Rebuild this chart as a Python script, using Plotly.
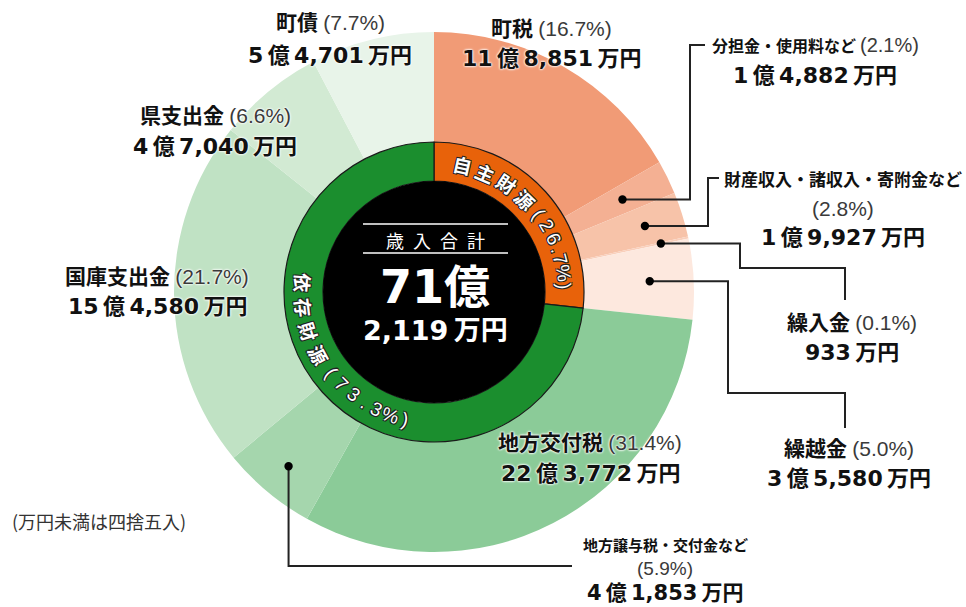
import math
import plotly.graph_objects as go

W, H = 966, 607

# ---------------- data ----------------
categories = ["町税", "分担金・使用料など", "財産収入・諸収入・寄附金など", "繰入金", "繰越金",
              "地方交付税", "地方譲与税・交付金など", "国庫支出金", "県支出金", "町債"]
values_man = [118851, 14882, 19927, 933, 35580, 223772, 41853, 154580, 47040, 54701]
percents = ["16.7%", "2.1%", "2.8%", "0.1%", "5.0%", "31.4%", "5.9%", "21.7%", "6.6%", "7.7%"]
amounts = ["11億8,851万円", "1億4,882万円", "1億9,927万円", "933万円", "3億5,580万円",
           "22億3,772万円", "4億1,853万円", "15億4,580万円", "4億7,040万円", "5億4,701万円"]
groups = ["自主財源", "依存財源"]
group_percents = ["26.7%", "73.3%"]
group_members = [5, 5]
total_title = "歳入合計"
total_main = "71億"
total_sub = "2,119万円"
note = "(万円未満は四捨五入)"

# ---------------- styles ----------------
outer_colors = ["#f19b76", "#f4b093", "#f7c3a9", "#f9cfbb", "#fde8de",
                "#8bcb98", "#a5d6ad", "#c0e2c4", "#d2ead3", "#e8f4e9"]
group_colors = ["#e8620a", "#1b8e2e"]
CX, CY = 434, 292
R_OUT, R_RING, R_CORE = 260, 150, 111
JP = "Noto Sans CJK JP"
NUM = "DejaVu Sans, Noto Sans CJK JP"
PCTF = "Liberation Sans, Noto Sans CJK JP"


def px(x):
    return x / W


def py(y):
    return 1 - y / H


def dom(r):
    return dict(x=[px(CX - r), px(CX + r)], y=[py(CY + r), py(CY - r)])


fig = go.Figure()
fig.add_trace(go.Pie(values=values_man, labels=categories, sort=False, direction="clockwise",
                     rotation=0, hole=0.5, domain=dom(R_OUT), textinfo="none",
                     hoverinfo="label+percent", marker=dict(colors=outer_colors, line=dict(width=0)),
                     showlegend=False))
group_values = [sum(values_man[:group_members[0]]), sum(values_man[group_members[0]:])]
fig.add_trace(go.Pie(values=group_values, labels=groups, sort=False, direction="clockwise",
                     rotation=0, hole=R_CORE / R_RING, domain=dom(R_RING), textinfo="none",
                     hoverinfo="label+percent",
                     marker=dict(colors=group_colors, line=dict(color="#1a1a1a", width=1.2)),
                     showlegend=False))
fig.add_trace(go.Pie(values=[sum(values_man)], labels=[total_title], domain=dom(R_CORE),
                     textinfo="none", hoverinfo="skip", sort=False,
                     marker=dict(colors=["#000000"], line=dict(width=0)), showlegend=False))

shapes = []
annotations = []

total = sum(values_man)
cum = []
acc = 0
for v in values_man:
    cum.append((acc / total, (acc + v) / total))
    acc += v


def polar(theta_deg, r):
    t = math.radians(theta_deg)
    return CX + r * math.sin(t), CY - r * math.cos(t)


def mid_point(i, r):
    a, b = cum[i]
    return polar((a + b) / 2 * 360, r)


HALO = "0 0 2px #fff, 0 0 2px #fff, 0 0 3px #fff"


def line_text(x, y, text, size, color="#111", weight="bold", family=JP, anchor="center"):
    annotations.append(dict(x=px(x), y=py(y), xref="paper", yref="paper", text=text,
                            showarrow=False, xanchor=anchor, yanchor="middle",
                            font=dict(size=size, color=color, family=family, weight=weight,
                                      shadow=HALO)))


def pct(p, size):
    return (f"<span style='font-weight:normal;color:#3a3a3a;font-family:Liberation Sans;"
            f"font-size:{size}px'>({p})</span>")


def amt(s):
    return s.replace("億", "\u2009億\u2009").replace("万円", "\u2009万円")


# outer labels: (index, x, [y lines], layout)
label_layout = [
    (0, 551, [27, 58], "two"),
    (1, 815, [45, 76], "two_small"),
    (2, 843, [178, 208, 238], "three"),
    (3, 852, [321, 352], "two"),
    (4, 849, [447, 478], "two"),
    (5, 590, [441, 473], "two"),
    (6, 665, [544, 568, 593], "three_small"),
    (7, 157, [275, 306], "two"),
    (8, 215, [114, 146], "two"),
    (9, 330, [21, 55], "two"),
]
SP = "\u2005"
for i, x, ys, kind in label_layout:
    name = categories[i]
    if kind == "two":
        line_text(x, ys[0], f"{name}{SP}{pct(percents[i], 21)}", 21)
        line_text(x, ys[1], amt(amounts[i]), 22, family=NUM)
    elif kind == "two_small":
        line_text(x, ys[0], f"{name}{SP}{pct(percents[i], 20)}", 16)
        line_text(x, ys[1], amt(amounts[i]), 22, family=NUM)
    elif kind == "three":
        line_text(x, ys[0], name, 17)
        line_text(x, ys[1], pct(percents[i], 21), 21)
        line_text(x, ys[2], amt(amounts[i]), 22, family=NUM)
    else:
        line_text(x, ys[0], name, 15)
        line_text(x, ys[1], pct(percents[i], 19), 19)
        line_text(x, ys[2], amt(amounts[i]), 21, family=NUM)

line_text(10, 521, note, 18, color="#333", weight="normal", anchor="left")

# leader lines
leaders = [
    (1, 210, [(690, None), (690, 45), (705, 45)]),
    (2, 221, [(708, None), (708, 178), (719, 178)]),
    (3, 232, [(740, None), (740, 268), (845, 268), (845, 300)]),
    (4, 216, [(728, None), (728, 393), (845, 393), (845, 428)]),
    (6, 227, [(None, 566), (572, 566)]),
]
for i, r, pts in leaders:
    x0, y0 = mid_point(i, r)
    path = f"M{px(x0)},{py(y0)}"
    cx, cy = x0, y0
    for (xx, yy) in pts:
        xx = cx if xx is None else xx
        yy = cy if yy is None else yy
        path += f" L{px(xx)},{py(yy)}"
        cx, cy = xx, yy
    shapes.append(dict(type="path", path=path, xref="paper", yref="paper",
                       line=dict(color="#222", width=2)))
    d = 4.2
    shapes.append(dict(type="circle", xref="paper", yref="paper",
                       x0=px(x0 - d), x1=px(x0 + d), y0=py(y0 + d), y1=py(y0 - d),
                       fillcolor="#000", line=dict(width=0)))

# center text
for yy in (224, 253):
    shapes.append(dict(type="line", xref="paper", yref="paper", x0=px(363), x1=px(508),
                       y0=py(yy), y1=py(yy), line=dict(color="#fff", width=1.5)))
annotations.append(dict(x=px(CX + 1), y=py(240), xref="paper", yref="paper",
                        text="\u2002".join(total_title), showarrow=False, yanchor="middle",
                        font=dict(size=18, color="#fff", family=JP)))
annotations.append(dict(x=px(CX + 1), y=py(287), xref="paper", yref="paper",
                        text=total_main, showarrow=False, yanchor="middle",
                        font=dict(size=46, color="#fff", family=NUM, weight="bold")))
annotations.append(dict(x=px(CX + 1), y=py(330), xref="paper", yref="paper",
                        text=total_sub.replace("万円", "\u2009万円"), showarrow=False, yanchor="middle",
                        font=dict(size=27, color="#fff", family=NUM, weight="bold")))

# ring text (characters placed along the ring)
OUTLINE = "1px 1px 0 #222, -1px -1px 0 #222, 1px -1px 0 #222, -1px 1px 0 #222"
R_TXT = 130.5
ring_texts = [
    (groups[0] + "(" + group_percents[0] + ")",
     [12.6, 23.3, 34.0, 44.6, 53.5, 59.5, 66.0, 71.0, 75.5, 81.5, 87.5], True),
    (groups[1] + "(" + group_percents[1] + ")",
     [273.9, 263.3, 252.6, 241.6, 232.0, 225.0, 218.0, 212.0, 206.0, 199.5, 193.0], False),
]
for text, angles, outward in ring_texts:
    for ch, th in zip(text, angles):
        x, y = polar(th, R_TXT)
        is_kanji = ord(ch) > 0x3000
        annotations.append(dict(x=px(x), y=py(y), xref="paper", yref="paper", text=ch,
                                showarrow=False, xanchor="center", yanchor="middle",
                                textangle=th if outward else th - 180,
                                font=dict(size=19, color="#fff",
                                          family=JP if is_kanji else PCTF,
                                          weight="bold" if is_kanji else "normal",
                                          shadow=OUTLINE)))

fig.update_layout(width=W, height=H, margin=dict(l=0, r=0, t=0, b=0),
                  paper_bgcolor="#fff", plot_bgcolor="#fff",
                  shapes=shapes, annotations=annotations, showlegend=False)
fig.write_html("out.html", config={"displayModeBar": False},
               post_script="document.body.style.margin='0';document.body.style.padding='0';")
